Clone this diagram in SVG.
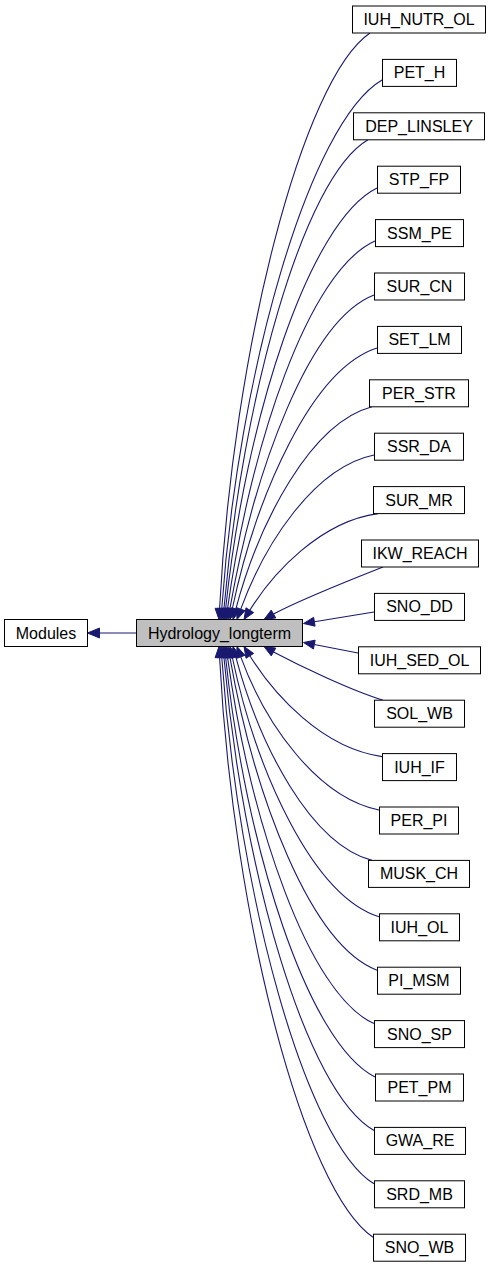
<svg xmlns="http://www.w3.org/2000/svg" width="493" height="1267" viewBox="0 0 493 1267">
<style>
.e{fill:none;stroke:#191970;stroke-width:1.1}
.a{fill:#191970;stroke:#191970;stroke-width:1}
.n rect{fill:#ffffff;stroke:#000000;stroke-width:1}
.n text{font-family:"Liberation Sans",Arial,Helvetica,sans-serif;font-size:16px;text-anchor:middle;fill:#000000}
#hydrology rect{fill:#bfbfbf}
</style>
<rect width="493" height="1267" fill="#ffffff"/>
<g id="connectors">
<path class="e" d="M136,633 L99.5,633"/><polygon class="a" points="87.5,633 99.5,628 99.5,638"/>
<path class="e" d="M370,33 C302.3,79 233.1,349.9 219.58,608.5"/><polygon class="a" points="219,619.5 224.07,608.74 215.09,608.26"/>
<path class="e" d="M382,80 C309.9,122.3 238.4,371.3 221.77,608.53"/><polygon class="a" points="221,619.5 226.26,608.84 217.28,608.22"/>
<path class="e" d="M368,139.8 C303.2,177.3 242.4,398.4 223.96,608.54"/><polygon class="a" points="223,619.5 228.44,608.93 219.48,608.15"/>
<path class="e" d="M377,188 C308.9,221.6 245.4,420.3 225.65,608.56"/><polygon class="a" points="224.5,619.5 230.13,609.03 221.18,608.09"/>
<path class="e" d="M375,241 C308.6,270.4 250.5,444.8 227.53,608.61"/><polygon class="a" points="226,619.5 231.99,609.24 223.07,607.98"/>
<path class="e" d="M374,295 C309.2,320.1 254.4,469.6 229.91,608.67"/><polygon class="a" points="228,619.5 234.34,609.45 225.48,607.89"/>
<path class="e" d="M377,348 C311.9,368.9 256.7,494 232.29,608.74"/><polygon class="a" points="230,619.5 236.69,609.68 227.89,607.8"/>
<path class="e" d="M372,406.8 C310.7,423 259.4,521.1 235.85,608.87"/><polygon class="a" points="233,619.5 240.2,610.03 231.5,607.71"/>
<path class="e" d="M374,455 C314.1,467.3 264.5,544 240.76,609.16"/><polygon class="a" points="237,619.5 244.99,610.7 236.53,607.62"/>
<path class="e" d="M378,513.6 C320.3,521.3 272.8,573.3 249.8,610.2"/><polygon class="a" points="244,619.5 253.62,612.59 245.98,607.81"/>
<path class="e" d="M383,567 C350,580 300,600 273.5,614"/><polygon class="a" points="264,619.5 275.75,617.9 271.25,610.1"/>
<path class="e" d="M374,612 L314.36,621.73"/><polygon class="a" points="303.5,623.5 313.64,617.29 315.08,626.17"/>
<path class="e" d="M358,653 L314.3,644.58"/><polygon class="a" points="303.5,642.5 315.15,640.16 313.45,649"/>
<path class="e" d="M383,700.2 C350,690 300,666 273.53,652"/><polygon class="a" points="264,646.5 275.78,648.1 271.28,655.9"/>
<path class="e" d="M382,756.6 C322.5,748.3 274.6,695.4 249.83,655.83"/><polygon class="a" points="244,646.5 253.65,653.44 246.01,658.22"/>
<path class="e" d="M379,810 C316.8,797.5 264.8,722.9 240.76,656.84"/><polygon class="a" points="237,646.5 244.99,655.3 236.53,658.38"/>
<path class="e" d="M372,860.4 C310.7,843.9 259.9,746.7 235.85,657.13"/><polygon class="a" points="233,646.5 240.2,655.97 231.5,658.29"/>
<path class="e" d="M379,916.8 C313,895.8 256.8,772.8 232.29,657.26"/><polygon class="a" points="230,646.5 236.69,656.32 227.89,658.2"/>
<path class="e" d="M377,970.2 C310.8,944.9 254.6,797.3 229.91,657.33"/><polygon class="a" points="228,646.5 234.34,656.55 225.48,658.11"/>
<path class="e" d="M374,1023.6 C308.1,994.1 250.6,821.9 227.53,657.39"/><polygon class="a" points="226,646.5 231.99,656.76 223.07,658.02"/>
<path class="e" d="M375,1077 C307.8,1043.2 245.5,846.6 225.65,657.44"/><polygon class="a" points="224.5,646.5 230.13,656.97 221.18,657.91"/>
<path class="e" d="M374,1130.4 C306.5,1092.3 242.6,870.9 223.96,657.46"/><polygon class="a" points="223,646.5 228.44,657.07 219.48,657.85"/>
<path class="e" d="M374,1183.8 C305.5,1141.5 238.4,895.1 221.77,657.47"/><polygon class="a" points="221,646.5 226.26,657.16 217.28,657.78"/>
<path class="e" d="M373,1237.2 C304,1190.6 233.3,919.3 219.58,657.48"/><polygon class="a" points="219,646.5 224.07,657.24 215.09,657.72"/>
</g>
<g id="modules" class="n"><rect x="4.5" y="619.5" width="83" height="27"/><text x="46" y="638.5">Modules</text></g>
<g id="hydrology" class="n"><rect x="136.5" y="619.5" width="166" height="27"/><text x="219.5" y="638.5">Hydrology_longterm</text></g>
<g id="n0" class="n"><rect x="352.5" y="6" width="133" height="27"/><text x="419" y="25">IUH_NUTR_OL</text></g>
<g id="n1" class="n"><rect x="382.5" y="59.4" width="74" height="27"/><text x="419.5" y="78.4">PET_H</text></g>
<g id="n2" class="n"><rect x="353.5" y="112.8" width="131" height="27"/><text x="419" y="131.8">DEP_LINSLEY</text></g>
<g id="n3" class="n"><rect x="377.5" y="166.2" width="83" height="27"/><text x="419" y="185.2">STP_FP</text></g>
<g id="n4" class="n"><rect x="375.5" y="219.6" width="88" height="27"/><text x="419.5" y="238.6">SSM_PE</text></g>
<g id="n5" class="n"><rect x="374.5" y="273" width="90" height="27"/><text x="419.5" y="292">SUR_CN</text></g>
<g id="n6" class="n"><rect x="377.5" y="326.4" width="84" height="27"/><text x="419.5" y="345.4">SET_LM</text></g>
<g id="n7" class="n"><rect x="369.5" y="379.8" width="99" height="27"/><text x="419" y="398.8">PER_STR</text></g>
<g id="n8" class="n"><rect x="374.5" y="433.2" width="89" height="27"/><text x="419" y="452.2">SSR_DA</text></g>
<g id="n9" class="n"><rect x="373.5" y="486.6" width="91" height="27"/><text x="419" y="505.6">SUR_MR</text></g>
<g id="n10" class="n"><rect x="361.5" y="540" width="117" height="27"/><text x="420" y="559">IKW_REACH</text></g>
<g id="n11" class="n"><rect x="374.5" y="593.4" width="90" height="27"/><text x="419.5" y="612.4">SNO_DD</text></g>
<g id="n12" class="n"><rect x="358.5" y="646.8" width="122" height="27"/><text x="419.5" y="665.8">IUH_SED_OL</text></g>
<g id="n13" class="n"><rect x="374.5" y="700.2" width="90" height="27"/><text x="419.5" y="719.2">SOL_WB</text></g>
<g id="n14" class="n"><rect x="382.5" y="753.6" width="74" height="27"/><text x="419.5" y="772.6">IUH_IF</text></g>
<g id="n15" class="n"><rect x="379.5" y="807" width="79" height="27"/><text x="419" y="826">PER_PI</text></g>
<g id="n16" class="n"><rect x="368.5" y="860.4" width="101" height="27"/><text x="419" y="879.4">MUSK_CH</text></g>
<g id="n17" class="n"><rect x="379.5" y="913.8" width="80" height="27"/><text x="419.5" y="932.8">IUH_OL</text></g>
<g id="n18" class="n"><rect x="377.5" y="967.2" width="83" height="27"/><text x="419" y="986.2">PI_MSM</text></g>
<g id="n19" class="n"><rect x="374.5" y="1020.6" width="90" height="27"/><text x="419.5" y="1039.6">SNO_SP</text></g>
<g id="n20" class="n"><rect x="375.5" y="1074" width="88" height="27"/><text x="419.5" y="1093">PET_PM</text></g>
<g id="n21" class="n"><rect x="374.5" y="1127.4" width="91" height="27"/><text x="420" y="1146.4">GWA_RE</text></g>
<g id="n22" class="n"><rect x="374.5" y="1180.8" width="90" height="27"/><text x="419.5" y="1199.8">SRD_MB</text></g>
<g id="n23" class="n"><rect x="373.5" y="1234.2" width="92" height="27"/><text x="419.5" y="1253.2">SNO_WB</text></g>
</svg>
